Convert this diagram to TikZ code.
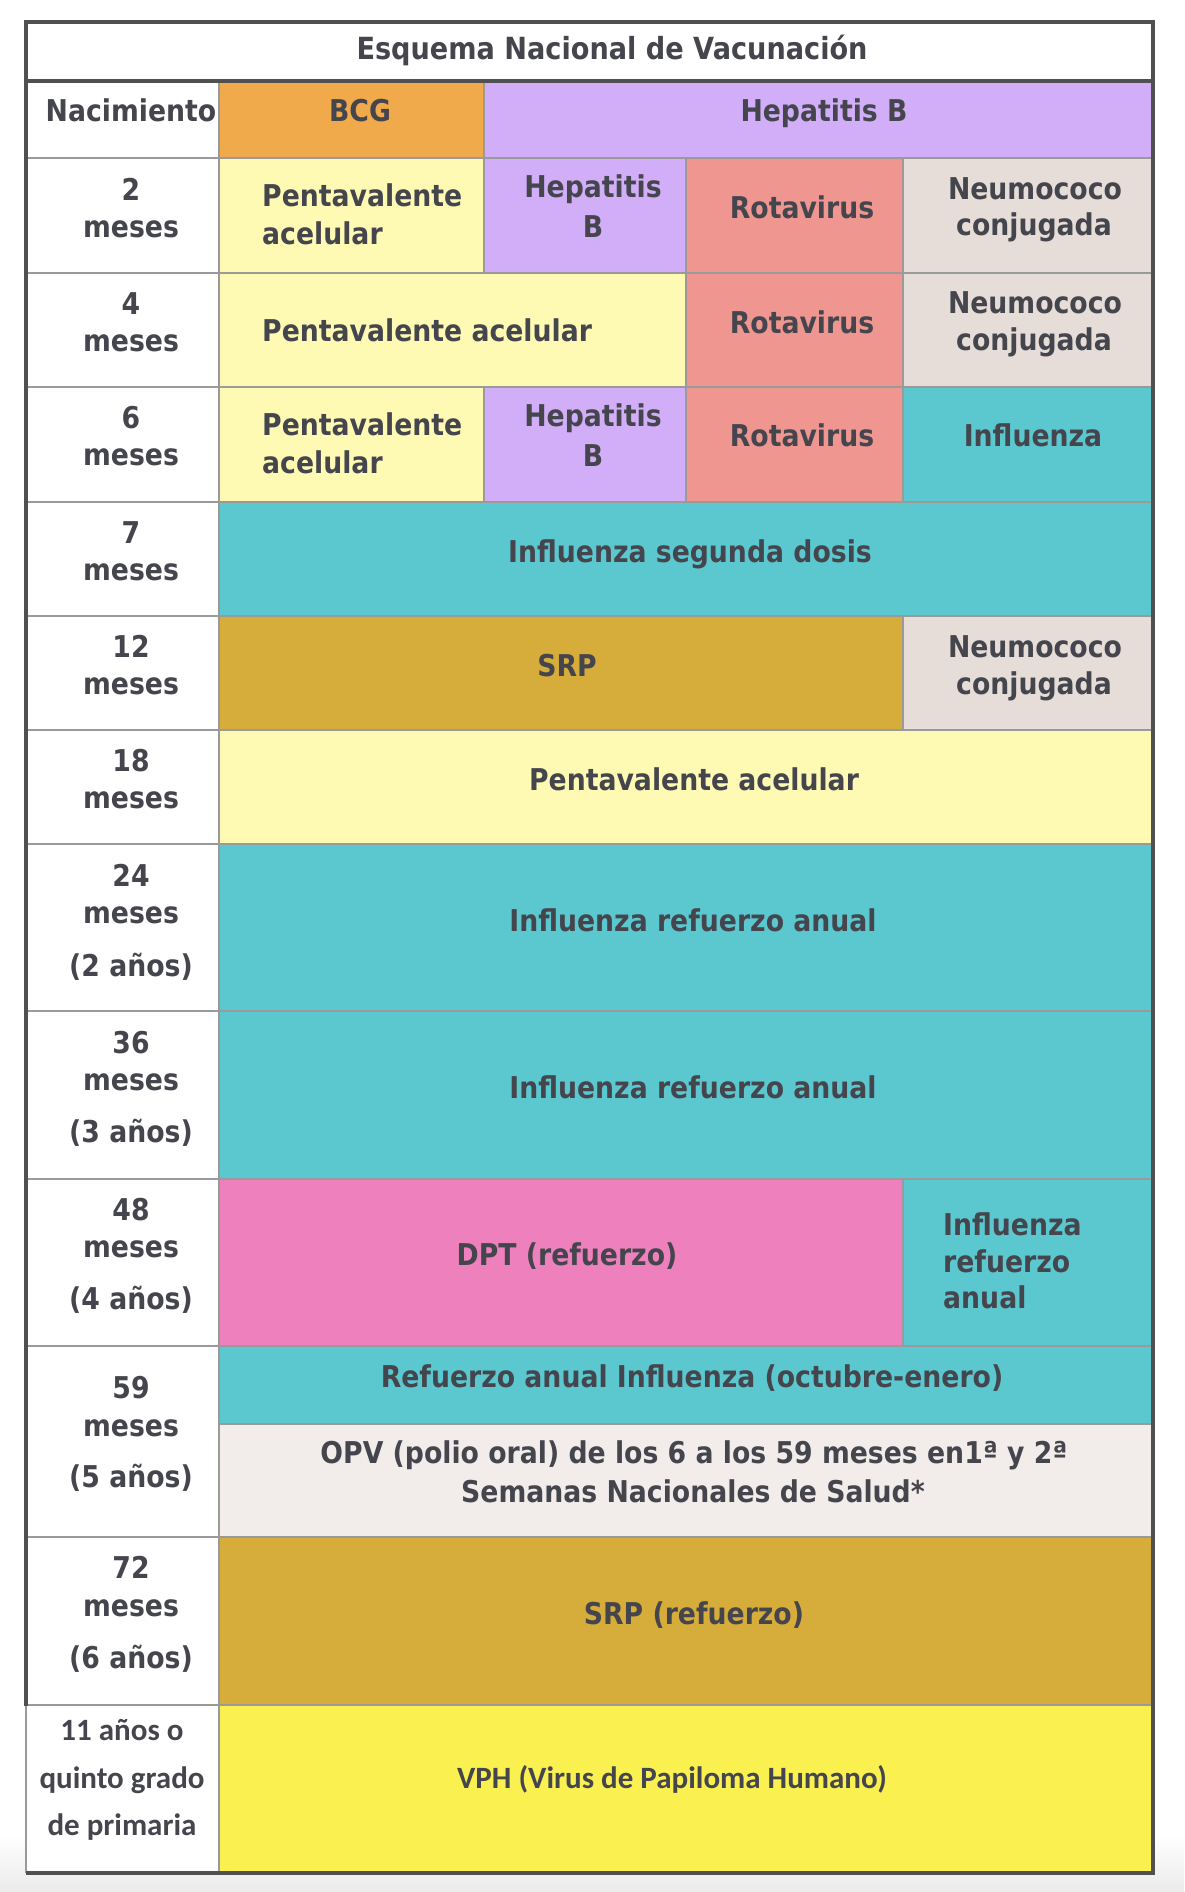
\documentclass[tikz,border=0pt]{standalone}
\usepackage{fontspec}
\newfontfamily\dvs{DejaVu Sans}[FakeStretch=0.89]
\newfontfamily\crl{Carlito}
\definecolor{bcg}{HTML}{F0A94B}
\definecolor{hepb}{HTML}{D1AEF7}
\definecolor{penta}{HTML}{FEFAB4}
\definecolor{rota}{HTML}{EF9690}
\definecolor{neumo}{HTML}{E6DDD8}
\definecolor{influ}{HTML}{5BC7CF}
\definecolor{srp}{HTML}{D6AD3A}
\definecolor{dpt}{HTML}{EE80BE}
\definecolor{opv}{HTML}{F2EDEB}
\definecolor{vph}{HTML}{FAF050}
\definecolor{txtc}{HTML}{45454D}
\definecolor{gridc}{HTML}{9A9A9A}
\definecolor{outerc}{HTML}{505050}
\tikzset{
  gridline/.style={draw=gridc, line width=2pt},
  outerline/.style={draw=outerc, line width=3.5pt},
  lbl/.style={inner sep=0pt, anchor=base, text=txtc, font=\dvs\bfseries\fontsize{30}{36}\selectfont},
  lbll/.style={lbl, anchor=base west},
  ttl/.style={lbl, font=\dvs\bfseries\fontsize{30.5}{36}\selectfont},
  cal/.style={inner sep=0pt, anchor=base, text=txtc, font=\crl\bfseries\fontsize{31}{36}\selectfont}
}
\begin{document}
\begin{tikzpicture}[x=1pt,y=-1pt]
\useasboundingbox (0,0) rectangle (1184,1892);
\fill[white] (0,0) rectangle (1184,1892);
\shade[top color=white, bottom color=gray!16] (0,1835) rectangle (1184,1892);
\def\cells{26/22/1153/81/white,
 26/81/219/158/white, 219/81/484/158/bcg, 484/81/1153/158/hepb,
 26/158/219/273/white, 219/158/484/273/penta, 484/158/686/273/hepb, 686/158/903/273/rota, 903/158/1153/273/neumo,
 26/273/219/387/white, 219/273/686/387/penta, 686/273/903/387/rota, 903/273/1153/387/neumo,
 26/387/219/502/white, 219/387/484/502/penta, 484/387/686/502/hepb, 686/387/903/502/rota, 903/387/1153/502/influ,
 26/502/219/616/white, 219/502/1153/616/influ,
 26/616/219/730/white, 219/616/903/730/srp, 903/616/1153/730/neumo,
 26/730/219/844/white, 219/730/1153/844/penta,
 26/844/219/1011/white, 219/844/1153/1011/influ,
 26/1011/219/1179/white, 219/1011/1153/1179/influ,
 26/1179/219/1346/white, 219/1179/903/1346/dpt, 903/1179/1153/1346/influ,
 26/1346/219/1537/white, 219/1346/1153/1424/influ, 219/1424/1153/1537/opv,
 26/1537/219/1705/white, 219/1537/1153/1705/srp,
 26/1705/219/1872/white, 219/1705/1153/1872/vph}
\foreach \a/\b/\c/\d/\col in \cells {\fill[fill=\col] (\a,\b) rectangle (\c,\d);}
\foreach \a/\b/\c/\d/\col in \cells {\draw[gridline] (\a,\b) rectangle (\c,\d);}
% outer frame
\draw[outerline] (26,1706) -- (26,22) -- (1153,22) -- (1153,1873) -- (26,1873);
\draw[outerline] (26,81) -- (1153,81);
% title
\node[ttl] (title) at (612,60) {Esquema Nacional de Vacunación};
% left column
\node[lbl] (nac) at (131,122) {Nacimiento};
\node[lbl] (m2a) at (131,200) {2};
\node[lbl] (m2b) at (131,237) {meses};
\node[lbl] (m4a) at (131,314) {4};
\node[lbl] (m4b) at (131,351) {meses};
\node[lbl] (m6a) at (131,428) {6};
\node[lbl] (m6b) at (131,465) {meses};
\node[lbl] (m7a) at (131,543) {7};
\node[lbl] (m7b) at (131,580) {meses};
\node[lbl] (m12a) at (131,657) {12};
\node[lbl] (m12b) at (131,694) {meses};
\node[lbl] (m18a) at (131,771) {18};
\node[lbl] (m18b) at (131,808) {meses};
\node[lbl] (m24a) at (131,886) {24};
\node[lbl] (m24b) at (131,923) {meses};
\node[lbl] (m24c) at (131,976) {(2 años)};
\node[lbl] (m36a) at (131,1053) {36};
\node[lbl] (m36b) at (131,1090) {meses};
\node[lbl] (m36c) at (131,1142) {(3 años)};
\node[lbl] (m48a) at (131,1220) {48};
\node[lbl] (m48b) at (131,1257) {meses};
\node[lbl] (m48c) at (131,1309) {(4 años)};
\node[lbl] (m59a) at (131,1398) {59};
\node[lbl] (m59b) at (131,1436) {meses};
\node[lbl] (m59c) at (131,1487) {(5 años)};
\node[lbl] (m72a) at (131,1578) {72};
\node[lbl] (m72b) at (131,1616) {meses};
\node[lbl] (m72c) at (131,1668) {(6 años)};
\node[cal] (y11a) at (122,1740) {11 años o};
\node[cal] (y11b) at (122,1788) {quinto grado};
\node[cal] (y11c) at (122,1835) {de primaria};
% birth row
\node[lbl] (bcgt) at (360,122) {BCG};
\node[lbl] (hepbt) at (824,122) {Hepatitis B};
% 2 meses
\node[lbll] (p2a) at (262,206) {Pentavalente};
\node[lbll] (p2b) at (262,244) {acelular};
\node[lbl] (h2a) at (593,197) {Hepatitis};
\node[lbl] (h2b) at (593,237) {B};
\node[lbl] (r2) at (802,218) {Rotavirus};
\node[lbl] (n2a) at (1035,199) {Neumococo};
\node[lbl] (n2b) at (1034,235) {conjugada};
% 4 meses
\node[lbll] (p4) at (262,341) {Pentavalente acelular};
\node[lbl] (r4) at (802,333) {Rotavirus};
\node[lbl] (n4a) at (1035,313) {Neumococo};
\node[lbl] (n4b) at (1034,350) {conjugada};
% 6 meses
\node[lbll] (p6a) at (262,435) {Pentavalente};
\node[lbll] (p6b) at (262,473) {acelular};
\node[lbl] (h6a) at (593,426) {Hepatitis};
\node[lbl] (h6b) at (593,466) {B};
\node[lbl] (r6) at (802,446) {Rotavirus};
\node[lbl] (i6) at (1033,446) {Influenza};
% 7 meses
\node[lbl] (i7) at (690,562) {Influenza segunda dosis};
% 12 meses
\node[lbl] (s12) at (567,676) {SRP};
\node[lbl] (n12a) at (1035,657) {Neumococo};
\node[lbl] (n12b) at (1034,694) {conjugada};
% 18 meses
\node[lbl] (p18) at (694,790) {Pentavalente acelular};
% 24, 36
\node[lbl] (i24) at (693,931) {Influenza refuerzo anual};
\node[lbl] (i36) at (693,1098) {Influenza refuerzo anual};
% 48
\node[lbl] (d48) at (567,1265) {DPT (refuerzo)};
\node[lbll] (i48a) at (943,1235) {Influenza};
\node[lbll] (i48b) at (943,1272) {refuerzo};
\node[lbll] (i48c) at (943,1308) {anual};
% 59
\node[lbl] (i59) at (692,1387) {Refuerzo anual Influenza (octubre-enero)};
\node[lbl] (o59a) at (694,1463) {OPV (polio oral) de los 6 a los 59 meses en1ª y 2ª};
\node[lbl] (o59b) at (693,1502) {Semanas Nacionales de Salud*};
% 72
\node[lbl] (s72) at (694,1624) {SRP (refuerzo)};
% 11 años
\node[cal] (vph11) at (672,1788) {VPH (Virus de Papiloma Humano)};
\end{tikzpicture}
\end{document}
